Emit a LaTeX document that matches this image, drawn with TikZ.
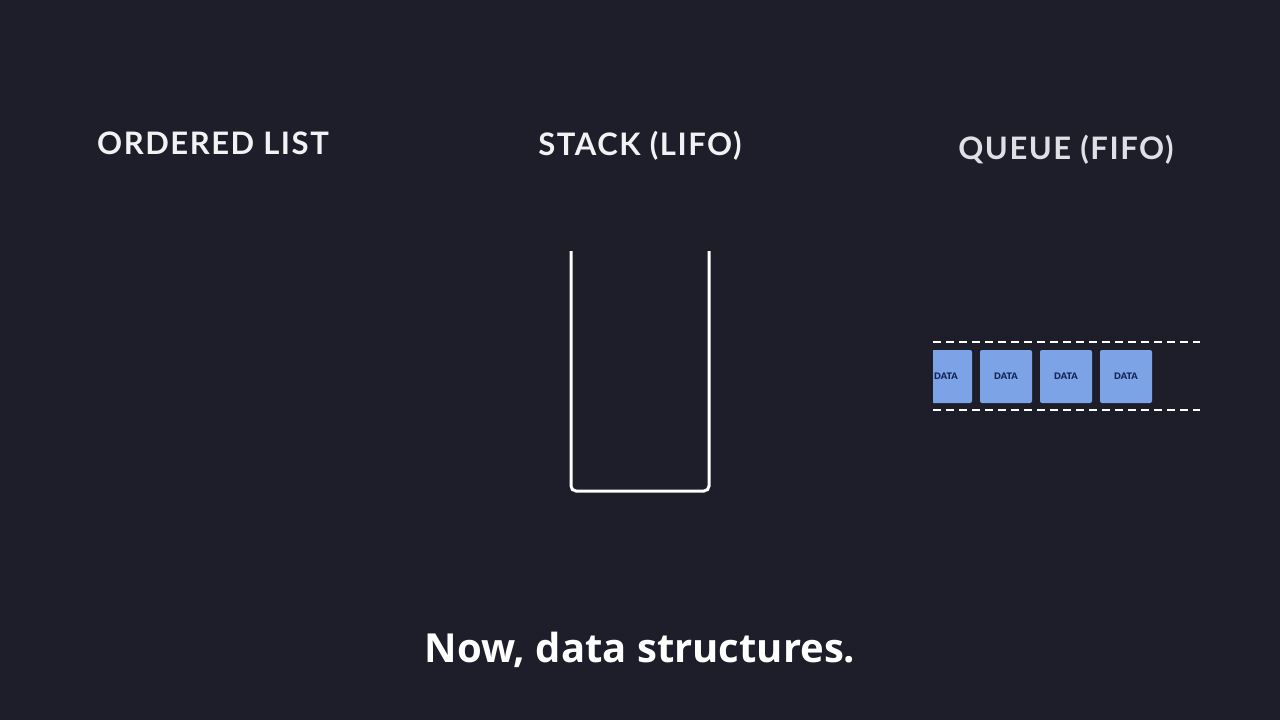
\documentclass[tikz,border=0pt]{standalone}
\usepackage{fontspec}
\setmainfont{Lato}
\newfontfamily\titlefont[LetterSpace=5]{Lato Bold}
\newfontfamily\subfont{Open Sans Bold}
\newfontfamily\boxfont{Lato Black}
\definecolor{bg}{RGB}{29,30,42}
\definecolor{fg}{RGB}{242,242,244}
\definecolor{qtitle}{RGB}{222,224,230}
\definecolor{databox}{RGB}{124,163,230}
\definecolor{datatext}{RGB}{20,36,84}
\tikzset{
  x=1pt, y=-1pt,
  title/.style={text=fg, font=\titlefont\fontsize{31}{36}\selectfont, inner sep=0pt, anchor=base},
  dbox/.style={fill=databox, rounded corners=2pt, minimum width=52pt, minimum height=53pt, inner sep=0pt,
     font=\boxfont\fontsize{9}{10}\selectfont, text=datatext},
  rail/.style={draw=white, line width=2.5pt, dash pattern=on 8pt off 5pt},
  cup/.style={draw=white, line width=3pt, rounded corners=5pt}
}
\begin{document}
\begin{tikzpicture}
\fill[bg] (0,0) rectangle (1280,720);
\useasboundingbox (0,0) rectangle (1280,720);
\node[title] (t1) at (213,154) {ORDERED LIST};
\node[title] (t2) at (640,155) {STACK (LIFO)};
\node[title, text=qtitle] (t3) at (1066,159) {QUEUE (FIFO)};
% stack
\coordinate (s1) at (571,251);
\coordinate (s2) at (571,491);
\coordinate (s3) at (709,491);
\coordinate (s4) at (709,251);
\draw[cup] (s1) -- (s2) -- (s3) -- (s4);
% queue
\coordinate (r1a) at (933,342);
\coordinate (r1b) at (1200,342);
\coordinate (r2a) at (933,410);
\coordinate (r2b) at (1200,410);
\draw[rail] (r1a) -- (r1b);
\draw[rail] (r2a) -- (r2b);
\begin{scope}
\clip (933,300) rectangle (1210,450);
\node[dbox] (d1) at (946,376.5) {DATA};
\end{scope}
\node[dbox] (d2) at (1006,376.5) {DATA};
\node[dbox] (d3) at (1066,376.5) {DATA};
\node[dbox] (d4) at (1126,376.5) {DATA};
\node[text=white, font=\subfont\fontsize{40}{46}\selectfont, inner sep=0pt, anchor=base] (sub) at (640,662) {Now, data structures.};
\end{tikzpicture}
\end{document}
